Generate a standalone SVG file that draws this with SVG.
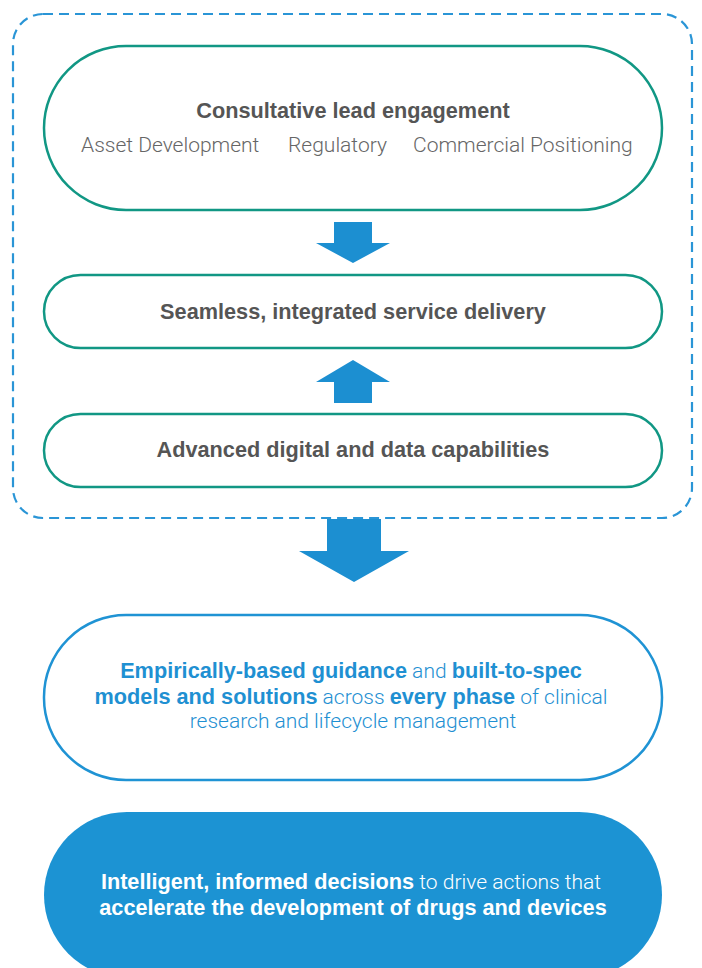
<svg xmlns="http://www.w3.org/2000/svg" width="702" height="968" viewBox="0 0 702 968">
  <style>
    .teal { fill: #ffffff; stroke: #119784; stroke-width: 2.5; }
    .blue { fill: #ffffff; stroke: #1f93d4; stroke-width: 2.5; }
    .solid { fill: #1c93d3; stroke: none; }
    .frame { fill: none; stroke: #2a95d6; stroke-width: 2.2; stroke-dasharray: 10 6; }
    .arrow { fill: #1c8fd1; }
    .b { font-family: "Liberation Sans", Arial, sans-serif; font-weight: 700; font-size: 21.7px; }
    .l { font-family: Roboto, "Liberation Sans", sans-serif; font-weight: 300; font-size: 21px; }
    .grey { fill: #555555; }
    .sub { fill: #666666; }
    .bluetxt { fill: #1f90d2; }
    .white { fill: #ffffff; }
  </style>

  <!-- dashed frame around the engagement stack -->
  <rect class="frame" x="13" y="14" width="679" height="504" rx="30"/>

  <g id="consultative">
    <rect class="teal" x="44" y="46" width="618" height="164" rx="82"/>
    <text class="b grey" x="353" y="118" text-anchor="middle">Consultative lead engagement</text>
    <text class="l sub" x="81" y="152">Asset Development</text>
    <text class="l sub" x="288" y="152">Regulatory</text>
    <text class="l sub" x="413" y="152">Commercial Positioning</text>
  </g>

  <g id="delivery">
    <rect class="teal" x="44" y="275" width="618" height="73" rx="36.5"/>
    <text class="b grey" x="353" y="319" text-anchor="middle">Seamless, integrated service delivery</text>
  </g>

  <g id="digital">
    <rect class="teal" x="44" y="414" width="618" height="73" rx="36.5"/>
    <text class="b grey" x="353" y="457" text-anchor="middle">Advanced digital and data capabilities</text>
  </g>

  <g id="guidance">
    <rect class="blue" x="44" y="615" width="618" height="165" rx="82"/>
    <text class="bluetxt" text-anchor="middle">
      <tspan x="353" y="678"><tspan class="b">Empirically-based guidance</tspan><tspan class="l"> and </tspan><tspan class="b">built-to-spec</tspan></tspan>
      <tspan x="353" y="704"><tspan class="b">models and solutions</tspan><tspan class="l"> across </tspan><tspan class="b">every phase</tspan><tspan class="l"> of clinical</tspan></tspan>
      <tspan x="353" y="728" class="l">research and lifecycle management</tspan>
    </text>
  </g>

  <g id="decisions">
    <rect class="solid" x="44" y="812" width="618" height="166" rx="83"/>
    <text class="white" text-anchor="middle">
      <tspan x="353" y="889"><tspan class="b">Intelligent, informed decisions</tspan><tspan class="l"> to drive actions that</tspan></tspan>
      <tspan x="353" y="915" class="b">accelerate the development of drugs and devices</tspan>
    </text>
  </g>

  <g id="connectors">
    <!-- consultative -> delivery -->
    <polygon class="arrow" points="334,222 372,222 372,243 390,243 353,263 316,243 334,243"/>
    <!-- digital -> delivery -->
    <polygon class="arrow" points="334,403 372,403 372,382 390,382 353,360 316,382 334,382"/>
    <!-- frame -> guidance -->
    <polygon class="arrow" points="327,519 381,519 381,551 409,551 354,582 299,551 327,551"/>
  </g>
</svg>
